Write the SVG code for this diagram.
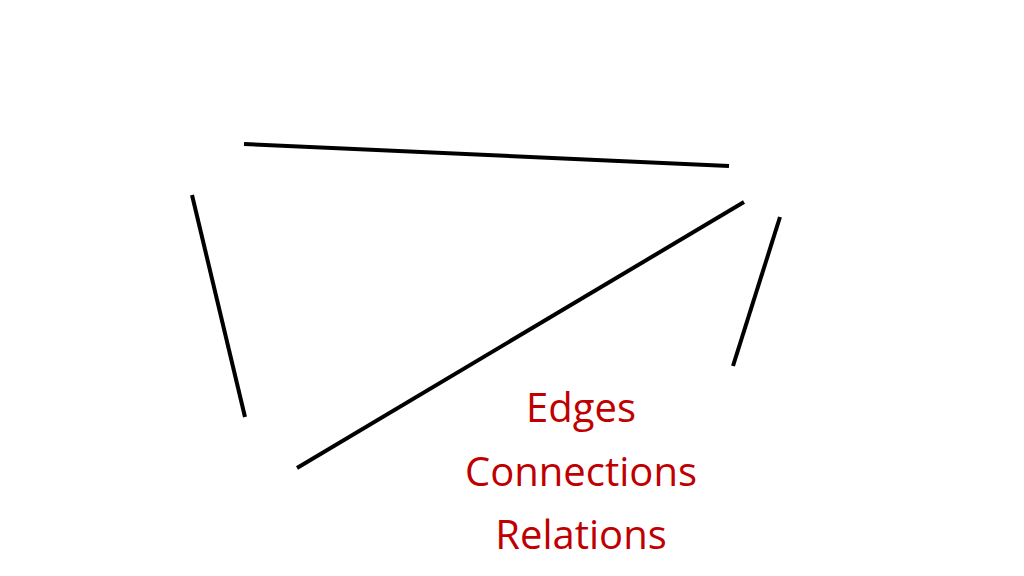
<svg xmlns="http://www.w3.org/2000/svg" width="1024" height="576" viewBox="0 0 1024 576">
<style>
.e{stroke:#000;stroke-width:4;fill:none}
.t{font-family:"Open Sans","Liberation Sans",sans-serif;font-size:40px;fill:#C00000;text-anchor:middle}
</style>
<rect width="1024" height="576" fill="#fff"/>
<g id="connectors">
<line class="e" x1="244" y1="144" x2="729" y2="166"/>
<line class="e" x1="192" y1="195" x2="245" y2="417"/>
<line class="e" x1="297" y1="468" x2="744" y2="202"/>
<line class="e" x1="780" y1="217" x2="733" y2="366"/>
</g>
<g id="label">
<text class="t" x="581" y="422">Edges</text>
<text class="t" x="581" y="486">Connections</text>
<text class="t" x="581" y="549">Relations</text>
</g>
</svg>
